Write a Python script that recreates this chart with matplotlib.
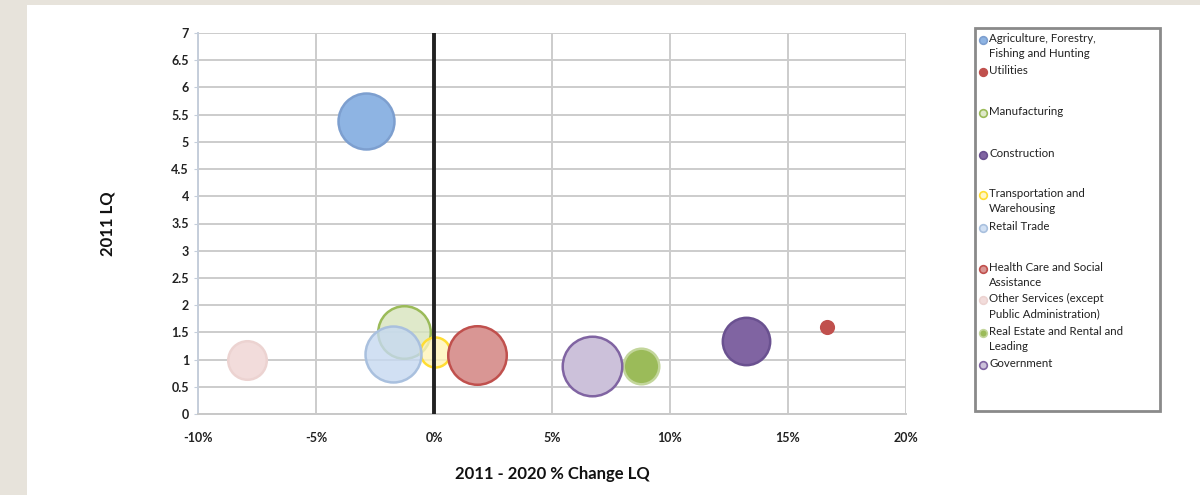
import matplotlib
matplotlib.use("Agg")
import matplotlib.pyplot as plt
from matplotlib.patches import Rectangle
import numpy as np

# industries, in legend order
industries = ["Agriculture, Forestry,\nFishing and Hunting", "Utilities", "Manufacturing",
              "Construction", "Transportation and\nWarehousing", "Retail Trade",
              "Health Care and Social\nAssistance", "Other Services (except\nPublic Administration)",
              "Real Estate and Rental and\nLeading", "Government"]
change_pct = [-2.9, 16.65, -1.28, 13.23, 0.06, -1.74, 1.84, -7.94, 8.78, 6.69]
lq_2011 = [5.38, 1.60, 1.51, 1.34, 1.14, 1.11, 1.09, 0.99, 0.89, 0.88]
bubble_size = [784, 40, 692, 562, 225, 784, 858, 372, 317, 888]

fills = ["#8eb4e3", "#c0504d", "#d7e4bdcc", "#8064a2", "#fff4b8cc", "#c6d9f1cc",
         "#d99694", "#f2dcdb", "#9bbb59", "#ccc1da"]
edges = ["#7d9fcf", "#c0504d", "#9bbb59", "#6a5190", "#ffdd33", "#a9c0de",
         "#c0504d", "#ecd3d1", "#c3d69b", "#8064a2"]

W, H = 1200, 495
def fx(x): return x / W
def fy(y): return 1 - y / H

plt.rcParams['font.family'] = ['Lato', 'DejaVu Sans']
fig = plt.figure(figsize=(12, 4.95), dpi=100, facecolor="white")
# beige paper strips round the white panel
fig.patches.append(Rectangle((0, 0), fx(27), 1, transform=fig.transFigure,
                             facecolor="#e7e3db", edgecolor="none", zorder=-5))
fig.patches.append(Rectangle((0, fy(5)), 1, 1 - fy(5), transform=fig.transFigure,
                             facecolor="#e7e3db", edgecolor="none", zorder=-5))

ax = fig.add_axes([fx(198), fy(414), fx(906 - 198), (414 - 33) / H])
ax.set_facecolor("white")
ax.set_xlim(-10, 20)
ax.set_ylim(0, 7)
ax.set_xticks(np.arange(-10, 21, 5))
ax.set_xticklabels(["-10%", "-5%", "0%", "5%", "10%", "15%", "20%"])
ax.set_yticks(np.arange(0, 7.01, 0.5))
ax.set_yticklabels(["0", "0.5", "1", "1.5", "2", "2.5", "3", "3.5", "4", "4.5", "5", "5.5", "6", "6.5", "7"])
ax.grid(True, color="#cccccc", lw=1.4)
ax.set_axisbelow(True)
for s in ["top", "right"]:
    ax.spines[s].set_visible(False)
ax.spines["left"].set_color("#c5cedb")
ax.spines["bottom"].set_color("#c8c8c8")
ax.spines["left"].set_linewidth(1.4)
ax.spines["bottom"].set_linewidth(1.4)
ax.tick_params(axis="both", length=3, color="#c5cedb", labelsize=9, labelcolor="#222222")
ax.tick_params(axis="x", pad=13, length=0)
for t in ax.get_xticklabels() + ax.get_yticklabels():
    t.set_fontweight("bold")

k = 2.07
for i in range(len(industries)):
    ax.scatter(change_pct[i], lq_2011[i], s=bubble_size[i] * k, c=fills[i],
               edgecolors=edges[i], linewidths=1.8, zorder=3 + i * 0.01)

ax.axvline(0, color="#222222", lw=2.8, zorder=10)

ax.set_xlabel("2011 - 2020 % Change LQ", fontsize=12, fontweight="bold", labelpad=16, color="#111111")
ax.set_ylabel("2011 LQ", fontsize=12, fontweight="bold", labelpad=40, color="#111111")

# legend box drawn by hand to keep Excel's spacing
fig.patches.append(Rectangle((fx(975), fy(411)), fx(1160 - 975), (411 - 28) / H,
                             transform=fig.transFigure, facecolor="none",
                             edgecolor="#8a8a8a", lw=2, zorder=5))
legend_y = [40, 72, 113, 155, 195, 228, 269, 300, 333, 365]
for i, name in enumerate(industries):
    y = legend_y[i]
    fig.add_artist(plt.Line2D([fx(983)], [fy(y)], marker="o", markersize=5.5,
                              markerfacecolor=fills[i], markeredgecolor=edges[i],
                              markeredgewidth=1.2, transform=fig.transFigure))
    fig.text(fx(989), fy(y - 7), name, fontsize=8.3, va="top", ha="left", color="#222222",
             linespacing=1.45, transform=fig.transFigure)

fig.savefig("out.png", dpi=100, facecolor=fig.get_facecolor())
